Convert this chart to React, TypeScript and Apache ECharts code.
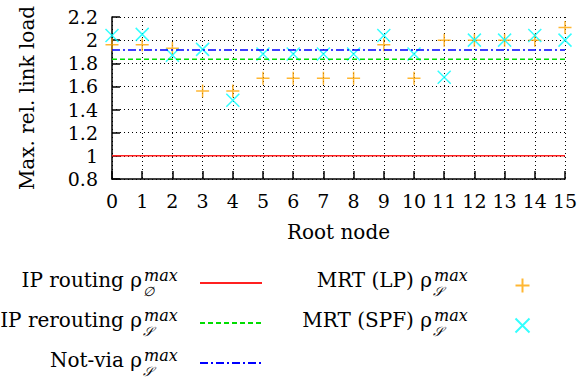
import React, { useEffect, useRef } from "react";
import * as echarts from "echarts";

const rootNodes = [0, 1, 2, 3, 4, 5, 6, 7, 8, 9, 10, 11, 12, 13, 14, 15];
const mrtLp = [1.96, 1.96, 1.93, 1.56, 1.56, 1.67, 1.67, 1.67, 1.67, 1.96, 1.67, 2.0, 2.0, 2.0, 2.0, 2.11];
const mrtSpf = [2.04, 2.05, 1.87, 1.92, 1.48, 1.88, 1.88, 1.88, 1.88, 2.04, 1.88, 1.68, 2.0, 2.0, 2.04, 2.0];
const ipRouting = 1.0;
const ipRerouting = 1.835;
const notVia = 1.915;
const yTicks = ["0.8", "1", "1.2", "1.4", "1.6", "1.8", "2", "2.2"];

const SERIF = "DejaVu Serif";
const PLUS = "path://M0,10 L20,10 M10,0 L10,20";
const CROSS = "path://M0,0 L20,20 M20,0 L0,20";

function legendLabel(main: string, sub: string, xEnd: number, yLine: number) {
  return {
    type: "group",
    children: [
      {
        type: "text",
        x: xEnd,
        y: yLine - 3,
        style: { text: main, font: `20px "${SERIF}"`, fill: "#000", align: "right", verticalAlign: "middle" },
      },
      {
        type: "text",
        x: xEnd + 2,
        y: yLine - 7.5,
        style: { text: "max", font: `italic 16px "${SERIF}"`, fill: "#000", align: "left", verticalAlign: "middle" },
      },
      {
        type: "text",
        x: xEnd + 1,
        y: yLine + 8,
        style: { text: sub, font: `italic 13px "${SERIF}"`, fill: "#000", align: "left", verticalAlign: "middle" },
      },
    ],
  };
}

export default function App() {
  const ref = useRef<HTMLDivElement>(null);
  useEffect(() => {
    if (!ref.current) return;
    const chart = echarts.init(ref.current, undefined, { renderer: "svg" });
    const lastX = rootNodes[rootNodes.length - 1];
    const firstX = rootNodes[0];
    const legendBase = { orient: "horizontal", padding: 0, itemGap: 0, formatter: () => "", selectedMode: false, textStyle: { fontSize: 1 } };
    const hideSym = { itemStyle: { color: "transparent", borderWidth: 0, opacity: 0 } };
    chart.setOption({
      animation: false,
      grid: { left: 112, right: 16, top: 17, bottom: 202 },
      xAxis: {
        type: "value",
        min: 0,
        max: 15,
        interval: 1,
        name: "Root node",
        nameLocation: "middle",
        nameGap: 43,
        nameTextStyle: { fontFamily: SERIF, fontSize: 20, color: "#000" },
        axisLine: { lineStyle: { color: "#000", width: 1.5 } },
        axisTick: { inside: true, length: 8, lineStyle: { color: "#000", width: 1.5 } },
        axisLabel: { fontFamily: SERIF, fontSize: 19, color: "#000", margin: 12 },
        splitLine: { show: true, lineStyle: { color: "#000", type: [1, 3], width: 1 } },
      },
      yAxis: {
        type: "value",
        min: 0.8,
        max: 2.2,
        interval: 0.2,
        name: "Max. rel. link load",
        nameLocation: "middle",
        nameGap: 75,
        nameTextStyle: { fontFamily: SERIF, fontSize: 20, color: "#000" },
        axisLine: { show: true, lineStyle: { color: "#000", width: 1.5 } },
        axisTick: { show: true, inside: true, length: 8, lineStyle: { color: "#000", width: 1.5 } },
        axisLabel: {
          fontFamily: SERIF,
          fontSize: 19,
          color: "#000",
          margin: 14,
          formatter: (v: number) => {
            const idx = Math.round((v - 0.8) / 0.2);
            return yTicks[idx] ?? String(v);
          },
        },
        splitLine: { show: true, lineStyle: { color: "#000", type: [1, 3], width: 1 } },
      },
      legend: [
        { ...legendBase, ...hideSym, data: ["IP routing"], left: 199, top: 276, itemWidth: 62, itemHeight: 14 },
        { ...legendBase, ...hideSym, data: ["IP rerouting"], left: 199, top: 316, itemWidth: 62, itemHeight: 14 },
        { ...legendBase, ...hideSym, data: ["Not-via"], left: 199, top: 356, itemWidth: 62, itemHeight: 14 },
        { ...legendBase, data: ["MRT (LP)"], left: 513, top: 276, itemWidth: 14, itemHeight: 14 },
        { ...legendBase, data: ["MRT (SPF)"], left: 513, top: 316, itemWidth: 14, itemHeight: 14 },
      ],
      graphic: [
        legendLabel("IP routing ρ", "∅", 142, 283),
        legendLabel("IP rerouting ρ", "𝒮", 142, 323),
        legendLabel("Not-via ρ", "𝒮", 142, 363),
        legendLabel("MRT (LP) ρ", "𝒮", 432, 283),
        legendLabel("MRT (SPF) ρ", "𝒮", 432, 323),
      ],
      series: [
        {
          name: "IP routing",
          type: "line",
          symbol: "none",
          data: [[firstX, ipRouting], [lastX, ipRouting]],
          lineStyle: { color: "#ff2020", width: 1.5 },
          itemStyle: { color: "#ff2020" },
        },
        {
          name: "IP rerouting",
          type: "line",
          symbol: "none",
          data: [[firstX, ipRerouting], [lastX, ipRerouting]],
          lineStyle: { color: "#00dd00", width: 1.5, type: [5, 3] },
          itemStyle: { color: "#00dd00" },
        },
        {
          name: "Not-via",
          type: "line",
          symbol: "none",
          data: [[firstX, notVia], [lastX, notVia]],
          lineStyle: { color: "#0000ff", width: 1.5, type: [8, 3, 2, 3] },
          itemStyle: { color: "#0000ff" },
        },
        {
          name: "MRT (LP)",
          type: "scatter",
          symbol: PLUS,
          symbolSize: 13,
          clip: false,
          data: rootNodes.map((x, i) => [x, mrtLp[i]]),
          itemStyle: { color: "none", borderColor: "#ffa500", borderWidth: 1.5 },
        },
        {
          name: "MRT (SPF)",
          type: "scatter",
          symbol: CROSS,
          symbolSize: 13,
          clip: false,
          data: rootNodes.map((x, i) => [x, mrtSpf[i]]),
          itemStyle: { color: "none", borderColor: "#00ffff", borderWidth: 1.5 },
        },
      ],
    });
    return () => chart.dispose();
  }, []);
  return <div ref={ref} style={{ width: 581, height: 381, position: "absolute", left: 0, top: 0 }} />;
}
